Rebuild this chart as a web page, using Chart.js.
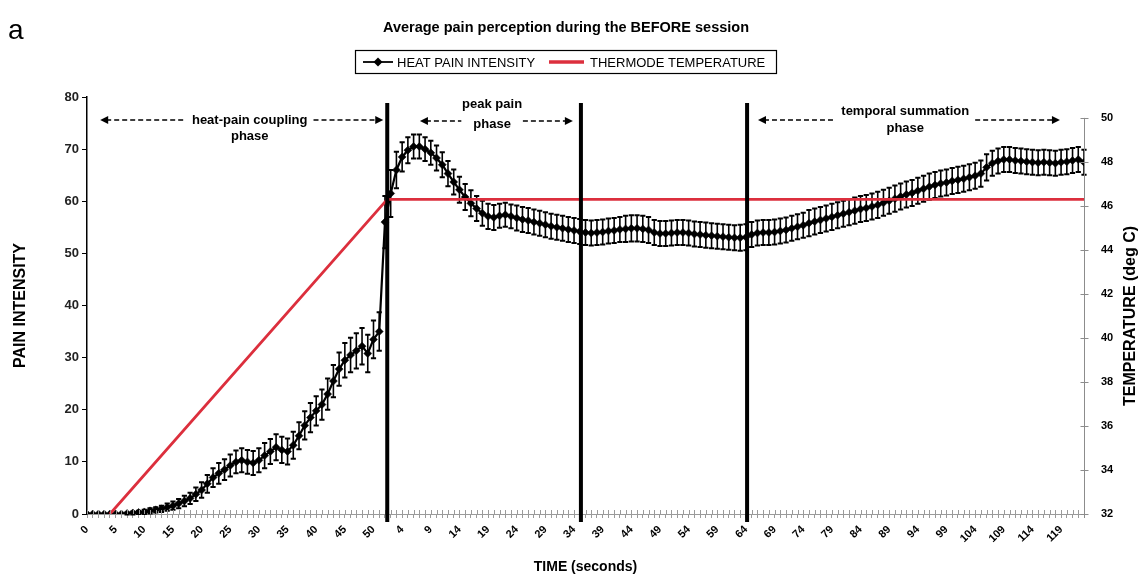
<!DOCTYPE html>
<html><head><meta charset="utf-8">
<script src="https://cdn.jsdelivr.net/npm/chart.js@4.4.1/dist/chart.umd.min.js"></script>
<style>html,body{margin:0;padding:0;background:#fff}#wrap{width:1145px;height:585px;position:relative}</style>
</head><body><div id="wrap"><canvas id="c" width="1145" height="585"></canvas></div>
<script>
// ---- data ----
function seq(a, b) { const r = []; for (let v = a; v <= b; v++) r.push(v); return r; }
const rampSeconds = seq(0, 51);      // tick labels, heat-pain coupling part
const holdSeconds = seq(1, 123);     // tick labels, after plateau reached
const timeLabels = rampSeconds.concat(holdSeconds);

const painIntensity = [
  0,0,0,0,0,0,0,0.1,0.2,0.3,
  0.4,0.6,0.8,1.0,1.3,1.6,2.0,2.5,3.0,3.8,
  4.6,5.8,7.0,7.8,8.5,9.3,10.0,10.3,10.0,9.8,
  10.3,11.2,12.0,12.8,12.3,12.0,13.2,15.0,17.0,18.5,
  19.8,21.0,23.0,25.5,27.8,29.5,30.5,31.3,32.2,30.8,
  33.5,35.0,56.0,61.5,66.0,68.5,69.8,70.5,70.5,70.0,
  69.3,68.3,67.0,65.3,63.7,62.2,60.8,59.6,58.6,57.7,
  57.1,56.9,57.2,57.4,57.1,56.8,56.5,56.3,56.0,55.8,
  55.5,55.2,55.0,54.8,54.6,54.4,54.2,54.0,53.9,54.0,
  54.1,54.3,54.4,54.6,54.7,54.8,54.8,54.7,54.5,54.0,
  53.8,53.8,53.9,54.0,54.0,53.9,53.7,53.6,53.5,53.4,
  53.3,53.2,53.1,53.0,53.0,53.1,53.6,53.9,54.0,54.0,
  54.1,54.3,54.5,54.8,55.1,55.4,55.8,56.1,56.4,56.7,
  57.0,57.3,57.6,57.9,58.2,58.5,58.7,59.0,59.3,59.7,
  60.1,60.5,60.9,61.3,61.6,62.0,62.4,62.8,63.1,63.4,
  63.6,63.9,64.1,64.3,64.6,64.9,65.3,66.5,67.3,67.7,
  68.0,68.0,67.8,67.7,67.6,67.5,67.4,67.5,67.4,67.3,
  67.5,67.6,67.8,68.0,67.5
];
const painError = [
  0,0,0,0,0,0,0,0.2,0.3,0.3,
  0.4,0.5,0.5,0.6,0.7,0.8,0.9,1.0,1.1,1.3,
  1.5,1.7,1.8,2.0,2.0,2.1,2.2,2.3,2.3,2.3,
  2.3,2.4,2.4,2.5,2.5,2.5,2.6,2.6,2.7,2.8,
  2.8,2.9,3.0,3.1,3.2,3.3,3.3,3.4,3.5,3.6,
  3.6,3.7,5.0,4.5,3.5,2.8,2.5,2.3,2.3,2.3,
  2.3,2.4,2.4,2.4,2.4,2.5,2.5,2.5,2.4,2.4,
  2.4,2.4,2.3,2.3,2.3,2.4,2.4,2.4,2.4,2.4,
  2.4,2.4,2.4,2.4,2.4,2.4,2.4,2.4,2.4,2.4,
  2.4,2.4,2.4,2.4,2.5,2.5,2.5,2.5,2.5,2.4,
  2.4,2.4,2.4,2.4,2.4,2.4,2.4,2.4,2.4,2.4,
  2.4,2.4,2.4,2.4,2.5,2.5,2.4,2.4,2.4,2.4,
  2.4,2.4,2.4,2.4,2.4,2.4,2.5,2.5,2.5,2.5,
  2.5,2.5,2.5,2.5,2.5,2.5,2.5,2.5,2.5,2.5,
  2.5,2.5,2.5,2.5,2.5,2.5,2.5,2.5,2.5,2.5,
  2.5,2.5,2.5,2.5,2.5,2.5,2.5,2.5,2.4,2.4,
  2.4,2.4,2.4,2.4,2.4,2.4,2.4,2.4,2.4,2.4,
  2.4,2.4,2.4,2.4,2.4
];
const thermodeTime = [4, 52.4, 174];        // x positions (sample index)
const thermodeTemp = [32, 46.3, 46.3];      // deg C
const phaseBoundaries = [52.4, 86.2, 115.2];
const leftTicks = [0, 10, 20, 30, 40, 50, 60, 70, 80];
const rightTicks = [32, 34, 36, 38, 40, 42, 44, 46, 48, 50];

// ---- drawing ----
const F = "'Liberation Sans', Arial, sans-serif";
const FN = "'Liberation Sans Narrow', 'Liberation Sans', Arial, sans-serif";

const decorPlugin = {
  id: 'decor',
  beforeDatasetsDraw(chart) {
    const ctx = chart.ctx, xs = chart.scales.x, ys = chart.scales.y;
    ctx.save();
    ctx.strokeStyle = '#000';
    painIntensity.forEach((v, i) => {
      const e = painError[i]; if (!e) return;
      const x = xs.getPixelForValue(i);
      const y1 = ys.getPixelForValue(v + e), y2 = ys.getPixelForValue(v - e);
      ctx.lineWidth = 1.6;
      ctx.beginPath(); ctx.moveTo(x, y1); ctx.lineTo(x, y2); ctx.stroke();
      ctx.lineWidth = 2;
      ctx.beginPath();
      ctx.moveTo(x - 2.6, y1); ctx.lineTo(x + 2.6, y1);
      ctx.moveTo(x - 2.6, y2); ctx.lineTo(x + 2.6, y2);
      ctx.stroke();
    });
    ctx.restore();
  },
  afterDatasetsDraw(chart) {
    const ctx = chart.ctx, xs = chart.scales.x, y2s = chart.scales.y2, a = chart.chartArea;
    ctx.save();
    // x cross ticks (upper half)
    ctx.strokeStyle = '#9a9a9a'; ctx.lineWidth = 1;
    for (let i = 0; i < timeLabels.length; i++) {
      const x = Math.round(xs.getPixelForValue(i)) + 0.5;
      ctx.beginPath(); ctx.moveTo(x, a.bottom - 4); ctx.lineTo(x, a.bottom); ctx.stroke();
    }
    // right axis
    const ax = a.right + 0.5;
    ctx.strokeStyle = '#8c8c8c';
    ctx.beginPath(); ctx.moveTo(ax, y2s.getPixelForValue(rightTicks[0]) + 4);
    ctx.lineTo(ax, y2s.getPixelForValue(rightTicks[rightTicks.length - 1])); ctx.stroke();
    rightTicks.forEach(t => {
      const y = Math.round(y2s.getPixelForValue(t)) + 0.5;
      ctx.beginPath(); ctx.moveTo(ax - 4, y); ctx.lineTo(ax + 4, y); ctx.stroke();
    });
    // phase boundary lines
    ctx.strokeStyle = '#000'; ctx.lineWidth = 4;
    phaseBoundaries.forEach(p => {
      const x = xs.getPixelForValue(p);
      ctx.beginPath(); ctx.moveTo(x, a.top + 6); ctx.lineTo(x, a.bottom + 8); ctx.stroke();
    });
    // phase annotations
    const px = v => xs.getPixelForValue(v);
    function arrow(x1, x2, y, gaps) {
      ctx.save();
      ctx.strokeStyle = '#000'; ctx.fillStyle = '#000'; ctx.lineWidth = 1.6;
      ctx.setLineDash([5, 3]);
      const segs = []; let s = x1 + 6;
      gaps.forEach(g => { segs.push([s, g[0]]); s = g[1]; });
      segs.push([s, x2 - 6]);
      segs.forEach(sg => { ctx.beginPath(); ctx.moveTo(sg[0], y); ctx.lineTo(sg[1], y); ctx.stroke(); });
      ctx.setLineDash([]);
      ctx.beginPath(); ctx.moveTo(x1, y); ctx.lineTo(x1 + 8, y - 4); ctx.lineTo(x1 + 8, y + 4); ctx.closePath(); ctx.fill();
      ctx.beginPath(); ctx.moveTo(x2, y); ctx.lineTo(x2 - 8, y - 4); ctx.lineTo(x2 - 8, y + 4); ctx.closePath(); ctx.fill();
      ctx.restore();
    }
    ctx.fillStyle = '#000'; ctx.textAlign = 'center'; ctx.textBaseline = 'middle';
    ctx.font = 'bold 13px ' + F;
    // heat-pain coupling
    let cx = px(28.4), w = ctx.measureText('heat-pain coupling').width;
    arrow(px(2.3), px(51.7), 120, [[cx - w / 2 - 8, cx + w / 2 + 6]]);
    ctx.fillText('heat-pain coupling', cx, 120);
    ctx.fillText('phase', cx, 136);
    // peak pain
    cx = px(70.7); w = ctx.measureText('phase').width;
    ctx.fillText('peak pain', cx, 104);
    arrow(px(58.1), px(84.8), 121, [[cx - w / 2 - 12, cx + w / 2 + 12]]);
    ctx.fillText('phase', cx, 124);
    // temporal summation
    cx = px(142.8); w = ctx.measureText('temporal summation').width;
    ctx.fillText('temporal summation', cx, 111);
    arrow(px(117.1), px(169.8), 120, [[cx - w / 2 - 6, cx + w / 2 + 6]]);
    ctx.fillText('phase', cx, 128);
    ctx.restore();
  },
  afterDraw(chart) {
    const ctx = chart.ctx, y2s = chart.scales.y2;
    ctx.save();
    ctx.fillStyle = '#000';
    // panel letter
    ctx.font = '28px ' + F; ctx.textAlign = 'left'; ctx.textBaseline = 'alphabetic';
    ctx.fillText('a', 8, 39);
    // title
    ctx.font = 'bold 14.5px ' + F; ctx.textAlign = 'center'; ctx.textBaseline = 'middle';
    ctx.fillText('Average pain perception during the BEFORE session', 566, 28);
    // legend
    const ds = chart.data.datasets;
    ctx.strokeStyle = '#000'; ctx.lineWidth = 1.2;
    ctx.strokeRect(355.5, 50.5, 421, 23);
    const ly = 62;
    ctx.lineWidth = 1.8; ctx.beginPath(); ctx.moveTo(363, ly); ctx.lineTo(393, ly); ctx.stroke();
    ctx.beginPath(); ctx.moveTo(378, ly - 4.5); ctx.lineTo(382.5, ly); ctx.lineTo(378, ly + 4.5); ctx.lineTo(373.5, ly); ctx.closePath(); ctx.fill();
    ctx.font = '13px ' + FN; ctx.textAlign = 'left';
    ctx.fillText(ds[0].label, 397, ly + 1);
    ctx.strokeStyle = ds[1].borderColor; ctx.lineWidth = 3.5;
    ctx.beginPath(); ctx.moveTo(549, ly); ctx.lineTo(584, ly); ctx.stroke();
    ctx.fillText(ds[1].label, 590, ly + 1);
    // right axis title
    const cy = (y2s.getPixelForValue(rightTicks[0]) + y2s.getPixelForValue(rightTicks[rightTicks.length - 1])) / 2;
    ctx.translate(1131, cy); ctx.rotate(-Math.PI / 2);
    ctx.font = 'bold 16px ' + F; ctx.textAlign = 'center';
    ctx.fillText('TEMPERATURE (deg C)', 0, 0);
    ctx.restore();
  }
};

new Chart(document.getElementById('c'), {
  type: 'line',
  data: {
    datasets: [
      {
        label: 'HEAT PAIN INTENSITY',
        data: painIntensity.map((v, i) => ({ x: i, y: v })),
        yAxisID: 'y', borderColor: '#000', borderWidth: 2.2,
        pointStyle: 'rectRot', pointRadius: 4, pointBackgroundColor: '#000', pointBorderColor: '#000', pointBorderWidth: 0.5,
        tension: 0, order: 1
      },
      {
        label: 'THERMODE TEMPERATURE',
        data: thermodeTime.map((t, i) => ({ x: t, y: thermodeTemp[i] })),
        yAxisID: 'y2', borderColor: '#dc2f3d', borderWidth: 2.8, pointRadius: 0, tension: 0, order: 0
      }
    ]
  },
  options: {
    responsive: false, animation: false,
    layout: { padding: { top: 97, left: 0, right: 0, bottom: 0 } },
    plugins: { legend: { display: false }, title: { display: false }, tooltip: { enabled: false } },
    scales: {
      x: {
        type: 'linear', min: 0, max: timeLabels.length - 1,
        afterFit: s => { s.height = 71; },
        ticks: {
          stepSize: 1, autoSkip: false, minRotation: 45, maxRotation: 45, padding: 5,
          callback: v => (Number.isInteger(v) && v % 5 === 0 && v < timeLabels.length) ? String(timeLabels[v]) : '',
          font: { family: F, size: 11, weight: 'bold' }, color: '#000'
        },
        grid: { drawOnChartArea: false, color: '#9a9a9a', tickLength: 4, lineWidth: 1 },
        border: { color: '#9a9a9a', width: 1 },
        title: { display: true, text: 'TIME (seconds)', font: { family: F, size: 14, weight: 'bold' }, color: '#000', padding: { top: 0, bottom: 9 } }
      },
      y: {
        position: 'left', min: 0, max: 80,
        afterFit: s => { s.width = 87; },
        afterBuildTicks: s => { s.ticks = leftTicks.map(v => ({ value: v })); },
        ticks: { font: { family: F, size: 13, weight: 'bold' }, color: '#222', padding: 3 },
        grid: { drawOnChartArea: false, color: '#000', tickLength: 5 },
        border: { color: '#000', width: 1.5 },
        title: { display: true, text: 'PAIN INTENSITY', font: { family: F, size: 16, weight: 'bold' }, color: '#000', padding: { top: 11 } }
      },
      y2: {
        position: 'right', min: 32, max: 50.95,
        afterFit: s => { s.width = 61; },
        afterBuildTicks: s => { s.ticks = rightTicks.map(v => ({ value: v })); },
        ticks: { font: { family: F, size: 11, weight: 'bold' }, color: '#000', padding: 9 },
        grid: { display: false },
        border: { display: false }
      }
    }
  },
  plugins: [decorPlugin]
});
</script>
</body></html>
